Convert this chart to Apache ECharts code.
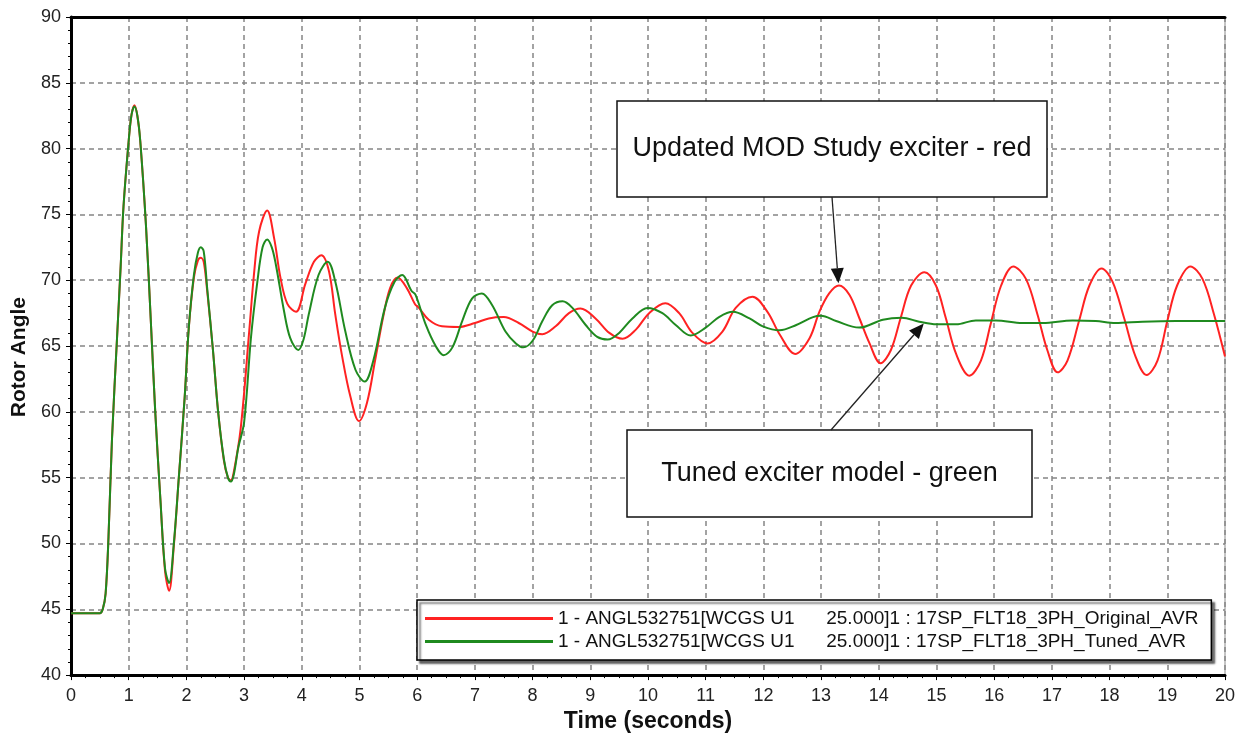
<!DOCTYPE html>
<html>
<head>
<meta charset="utf-8">
<script src="https://cdn.jsdelivr.net/npm/echarts@6/dist/echarts.min.js"></script>
<style>
html,body{margin:0;padding:0;background:#fff;}
#c{width:1243px;height:738px;}
</style>
</head>
<body>
<div id="c"></div>
<script>
// ---- Data ----
const redTime = [0,0.5,0.55,0.6,0.65,0.71,0.8,0.86,0.91,1.0,1.05,1.1,1.15,1.2,1.3,1.39,1.46,1.55,1.63,1.7,1.78,1.87,1.97,2.04,2.13,2.2,2.25,2.3,2.36,2.46,2.55,2.65,2.72,2.77,2.82,2.94,3.09,3.17,3.26,3.4,3.52,3.63,3.75,3.9,4.06,4.21,4.34,4.47,4.58,4.7,4.84,4.99,5.13,5.27,5.41,5.53,5.66,5.82,5.96,6.03,6.2,6.43,6.72,7.0,7.24,7.5,7.76,8.0,8.17,8.4,8.63,8.83,9.09,9.33,9.56,9.79,10.02,10.3,10.54,10.77,11.03,11.29,11.52,11.81,12.07,12.28,12.55,12.8,12.97,13.14,13.31,13.49,13.66,13.84,14.03,14.21,14.38,14.56,14.79,14.99,15.16,15.34,15.57,15.77,15.94,16.12,16.33,16.55,16.75,16.92,17.1,17.27,17.47,17.65,17.86,18.05,18.25,18.45,18.64,18.83,19.0,19.17,19.4,19.61,19.81,20.0];
const redAngle = [44.7,44.7,45.0,46.2,50.5,57.9,65.8,71.0,75.6,80.6,82.6,83.3,82.5,80.6,74.1,66.3,60.0,53.3,47.9,46.4,49.7,55.1,61.1,66.3,70.2,71.5,71.7,71.4,69.2,64.7,60.0,56.3,55.0,54.8,55.4,58.7,66.2,70.4,73.7,75.3,73.2,70.2,68.2,67.6,69.7,71.4,71.9,70.7,67.4,64.2,61.2,59.3,60.7,63.9,67.2,69.4,70.2,69.4,68.2,67.9,67.0,66.5,66.45,66.75,67.1,67.2,66.75,66.1,65.9,66.5,67.5,67.85,67.1,66.0,65.55,66.25,67.5,68.25,67.5,66.0,65.2,66.1,67.9,68.75,67.6,65.9,64.4,65.6,67.6,69.0,69.6,68.9,67.15,65.2,63.7,64.7,67.15,69.6,70.6,69.6,67.15,64.4,62.75,63.9,66.7,69.6,71.05,70.1,67.4,64.7,63.0,63.9,66.9,69.6,70.9,69.9,67.15,64.2,62.8,63.9,66.9,69.6,71.05,70.1,67.4,64.2];

const greenTime = [0,0.5,0.55,0.6,0.65,0.71,0.8,0.86,0.91,1.0,1.05,1.1,1.15,1.2,1.3,1.39,1.46,1.55,1.63,1.7,1.78,1.87,1.97,2.04,2.13,2.2,2.25,2.3,2.36,2.46,2.55,2.65,2.72,2.77,2.82,2.9,3.0,3.12,3.23,3.32,3.4,3.48,3.55,3.69,3.8,3.94,4.03,4.12,4.29,4.45,4.58,4.75,4.93,5.09,5.24,5.44,5.61,5.74,5.9,5.97,6.15,6.32,6.46,6.61,6.78,6.95,7.12,7.3,7.53,7.71,7.84,8.0,8.17,8.34,8.52,8.69,8.92,9.12,9.3,9.5,9.73,9.99,10.25,10.48,10.74,11.0,11.23,11.47,11.76,11.99,12.28,12.57,12.86,13.0,13.26,13.66,14.07,14.4,14.7,15.0,15.34,15.68,16.03,16.49,16.84,17.36,17.76,18.1,18.57,19.15,20.0];
const greenAngle = [44.7,44.7,45.0,46.2,50.5,57.9,65.8,71.0,75.6,80.6,82.6,83.2,82.5,80.6,74.1,66.3,60.0,53.3,48.1,47.0,49.9,55.1,61.1,66.3,70.4,72.1,72.5,72.2,69.4,64.7,60.0,56.4,55.0,54.7,55.2,57.3,59.2,65.7,69.9,72.5,73.1,72.5,71.2,67.7,65.6,64.7,65.5,67.4,70.4,71.4,69.9,66.2,63.2,62.3,63.9,67.9,69.9,70.4,69.2,68.9,66.6,65.0,64.3,64.9,66.9,68.6,69.0,68.1,66.1,65.2,64.9,65.4,66.9,68.1,68.4,67.9,66.6,65.7,65.5,66.0,67.1,67.9,67.5,66.6,65.8,66.4,67.2,67.6,67.1,66.5,66.2,66.6,67.2,67.3,66.9,66.4,67.0,67.15,66.85,66.65,66.65,66.95,66.95,66.75,66.75,66.95,66.9,66.75,66.85,66.9,66.9];

const seriesNames = [
  '1 - ANGL532751[WCGS U1      25.000]1 : 17SP_FLT18_3PH_Original_AVR',
  '1 - ANGL532751[WCGS U1      25.000]1 : 17SP_FLT18_3PH_Tuned_AVR'
];
const annotationTexts = ['Updated MOD Study exciter - red', 'Tuned exciter model - green'];
// arrow tips in data space [time, angle]
const annotationTips = [[13.30, 69.77], [14.78, 66.72]];
const xAxisTitle = 'Time (seconds)';
const yAxisTitle = 'Rotor Angle';

const zip = (a, b) => a.map((v, i) => [v, b[i]]);

const FONT = '"Liberation Sans", Arial, sans-serif';
const chart = echarts.init(document.getElementById('c'), null, {renderer: 'canvas'});

const gridSplit = {show: true, lineStyle: {color: '#858585', width: 1.5, type: [5, 4]}};

const option = {
  animation: false,
  backgroundColor: '#fff',
  grid: {left: 71, right: 18, top: 17, bottom: 59, show: true, borderColor: '#8a8a8a', borderWidth: 1, backgroundColor: 'transparent'},
  xAxis: [{
    type: 'value', min: 0, max: 20, interval: 1, position: 'bottom',
    name: xAxisTitle, nameLocation: 'middle', nameGap: 31,
    nameTextStyle: {fontFamily: FONT, fontWeight: 'bold', fontSize: 23, color: '#111'},
    axisLine: {show: true, onZero: false, lineStyle: {color: '#000', width: 3}},
    axisTick: {show: true, inside: false, length: 5, lineStyle: {color: '#000', width: 1}},
    minorTick: {show: true, splitNumber: 4, length: 3, lineStyle: {color: '#000', width: 1}},
    axisLabel: {fontFamily: FONT, fontSize: 18, color: '#222', margin: 12},
    splitLine: gridSplit
  }, {
    type: 'value', min: 0, max: 20, interval: 1, position: 'top',
    axisLine: {show: true, onZero: false, lineStyle: {color: '#000', width: 3}},
    axisTick: {show: false}, axisLabel: {show: false}, splitLine: {show: false}
  }],
  yAxis: {
    type: 'value', min: 40, max: 90, interval: 5,
    name: yAxisTitle, nameLocation: 'middle', nameGap: 38,
    nameTextStyle: {fontFamily: FONT, fontWeight: 'bold', fontSize: 21, color: '#111', padding: [0, 22, 0, 0]},
    axisLine: {show: true, onZero: false, lineStyle: {color: '#000', width: 3}},
    axisTick: {show: true, inside: false, length: 5, lineStyle: {color: '#000', width: 1}},
    minorTick: {show: true, splitNumber: 5, length: 3, lineStyle: {color: '#000', width: 1}},
    axisLabel: {fontFamily: FONT, fontSize: 18, color: '#222', margin: 10},
    splitLine: gridSplit
  },
  legend: {
    orient: 'vertical', left: 417, top: 600,
    padding: [9, 13, 9, 8], itemGap: 4,
    icon: 'rect', itemWidth: 128, itemHeight: 3,
    backgroundColor: '#fff', borderColor: '#000', borderWidth: 1.5,
    shadowColor: 'rgba(0,0,0,0.6)', shadowBlur: 2, shadowOffsetX: 3, shadowOffsetY: 3,
    textStyle: {fontFamily: FONT, fontSize: 19, color: '#111'},
    data: seriesNames
  },
  series: [{
    name: seriesNames[0], type: 'line', color: '#ff2222',
    data: zip(redTime, redAngle), showSymbol: false, smooth: 0.35,
    lineStyle: {width: 2, color: '#ff2222'}, z: 2
  }, {
    name: seriesNames[1], type: 'line', color: '#1f8a1f',
    data: zip(greenTime, greenAngle), showSymbol: false, smooth: 0.35,
    lineStyle: {width: 2, color: '#1f8a1f'}, z: 3
  }]
};
chart.setOption(option);

// Annotation boxes (layout in pixels), arrows end at data-space tips
const boxes = [
  {x: 617, y: 101, w: 430, h: 96, from: [832, 197]},
  {x: 627, y: 430, w: 405, h: 87, from: [831, 430]}
];
const graphics = [];
boxes.forEach((b, i) => {
  const tip = chart.convertToPixel({gridIndex: 0}, annotationTips[i]);
  const dx = tip[0] - b.from[0], dy = tip[1] - b.from[1];
  const len = Math.sqrt(dx * dx + dy * dy);
  const ux = dx / len, uy = dy / len;
  const hl = 15, hw = 6.5;
  const base = [tip[0] - ux * hl, tip[1] - uy * hl];
  graphics.push({type: 'rect', z: 100, shape: {x: b.x, y: b.y, width: b.w, height: b.h},
    style: {fill: '#fff', stroke: '#111', lineWidth: 1.5}});
  graphics.push({type: 'text', z: 101, style: {text: annotationTexts[i], x: b.x + b.w / 2, y: b.y + b.h / 2,
    font: '27px ' + FONT, fill: '#111', align: 'center', verticalAlign: 'middle'}});
  graphics.push({type: 'polyline', z: 100, shape: {points: [b.from, base]},
    style: {stroke: '#222', lineWidth: 1.3, fill: null}});
  graphics.push({type: 'polygon', z: 100, shape: {points: [
    tip, [base[0] - uy * hw, base[1] + ux * hw], [base[0] + uy * hw, base[1] - ux * hw]]},
    style: {fill: '#111'}});
});
chart.setOption({graphic: graphics});
</script>
</body>
</html>
